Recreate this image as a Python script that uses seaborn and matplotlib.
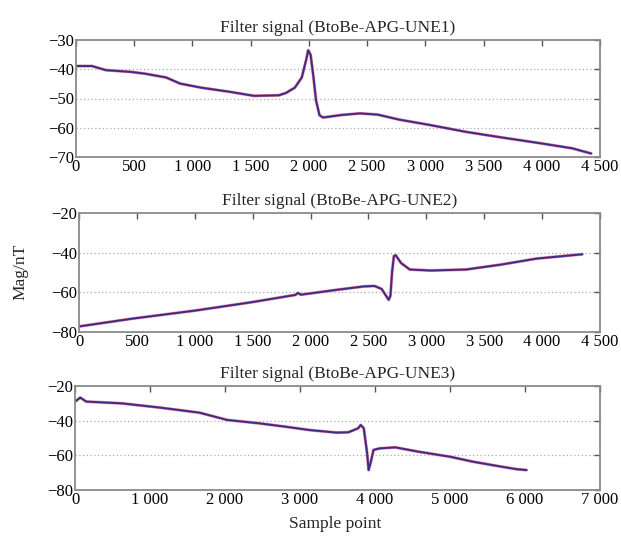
import matplotlib
matplotlib.use("Agg")
import matplotlib.pyplot as plt
import matplotlib.ticker as mticker
import seaborn as sns
import pandas as pd

# ---- data ----
x1 = [0, 136, 257, 470, 590, 773, 894, 1076, 1318, 1530, 1742, 1803, 1879, 1939, 1976,
      1994, 2015, 2039, 2061, 2091, 2121, 2288, 2439, 2591, 2773, 3045, 3348, 3652, 3955,
      4258, 4424]
y1 = [-38.9, -38.9, -40.3, -40.9, -41.5, -42.8, -44.9, -46.3, -47.7, -49.1, -48.9, -48.1,
      -46.3, -42.8, -36.9, -33.5, -35.1, -42.6, -50.6, -55.7, -56.5, -55.6, -55.1, -55.5,
      -57.2, -59.1, -61.4, -63.3, -65.1, -67.0, -68.8]

x2 = [0, 456, 1003, 1489, 1869, 1891, 1915, 2219, 2462, 2553, 2614, 2660, 2675, 2690,
      2705, 2720, 2736, 2781, 2857, 3040, 3343, 3647, 3951, 4347]
y2 = [-77.2, -73.3, -69.2, -65.0, -61.3, -60.3, -61.2, -58.8, -57.0, -56.8, -58.3, -62.5,
      -63.8, -61.7, -49.2, -41.7, -41.3, -45.2, -48.5, -49.0, -48.5, -46.0, -43.0, -40.8]

x3 = [0, 70, 150, 620, 1140, 1660, 2030, 2450, 2810, 3125, 3490, 3645, 3775, 3810, 3850,
      3895, 3915, 3945, 3980, 4060, 4270, 4580, 5000, 5310, 5680, 5890, 6020]
y3 = [-29.0, -26.7, -29.0, -30.0, -32.5, -35.4, -39.6, -41.5, -43.5, -45.4, -46.9, -46.7,
      -44.4, -42.5, -44.4, -58.8, -68.5, -63.7, -56.9, -56.0, -55.4, -57.9, -60.8, -63.7,
      -66.5, -68.0, -68.5]

titles = ["Filter signal (BtoBe-APG-UNE1)",
          "Filter signal (BtoBe-APG-UNE2)",
          "Filter signal (BtoBe-APG-UNE3)"]
xlims = [(0, 4500), (0, 4500), (0, 7000)]
ylims = [(-70, -30), (-80, -20), (-80, -20)]
xticks = [list(range(0, 4501, 500)), list(range(0, 4501, 500)), list(range(0, 7001, 1000))]
yticks = [[-70, -60, -50, -40, -30], [-80, -60, -40, -20], [-80, -60, -40, -20]]

sns.set_theme(style="white")
plt.rcParams['font.family'] = ['Liberation Serif', 'DejaVu Serif']

fig = plt.figure(figsize=(6.21, 5.38), dpi=100)
positions = [
    [76 / 621, 1 - 157 / 538, (600 - 76) / 621, (157 - 40) / 538],
    [79 / 621, 1 - 332 / 538, (600 - 79) / 621, (332 - 213) / 538],
    [75 / 621, 1 - 490 / 538, (600 - 75) / 621, (490 - 386) / 538],
]

def fmt(v, pos):
    v = int(round(v))
    s = f"{abs(v):,}".replace(",", " ")
    return ("\u2212" if v < 0 else "") + s

datasets = [(x1, y1), (x2, y2), (x3, y3)]
for i, (xs, ys) in enumerate(datasets):
    ax = fig.add_axes(positions[i])
    df = pd.DataFrame({"x": xs, "y": ys})
    sns.lineplot(data=df, x="x", y="y", ax=ax, color="#e58aa0", linewidth=2.2)
    sns.lineplot(data=df, x="x", y="y", ax=ax, color="#3f2b85", linewidth=1.4)
    ax.set_xlim(*xlims[i])
    ax.set_ylim(*ylims[i])
    ax.set_xticks(xticks[i])
    ax.set_yticks(yticks[i])
    ax.xaxis.set_major_formatter(mticker.FuncFormatter(fmt))
    ax.yaxis.set_major_formatter(mticker.FuncFormatter(fmt))
    for yv in yticks[i][1:-1]:
        ax.axhline(yv, color="#aaaaaa", linestyle=(0, (1, 2)), linewidth=0.9, zorder=0)
    ax.tick_params(direction="in", length=4, width=1.0, color="#555555",
                   top=True, right=True, labelsize=12, pad=1.5, labelcolor="black")
    for sp in ax.spines.values():
        sp.set_color("#8a8a8a")
        sp.set_linewidth(1.3)
    ax.set_xlabel("")
    ax.set_ylabel("")
    ax.set_title(titles[i], fontsize=12.5, pad=6)

fig.text(20 / 621, 1 - 272 / 538, "Mag/nT", rotation=90, ha="center", va="center", fontsize=12.5)
fig.text(335 / 621, 1 - 524 / 538, "Sample point", ha="center", va="center", fontsize=12.5)

fig.savefig("out.png", dpi=100)
